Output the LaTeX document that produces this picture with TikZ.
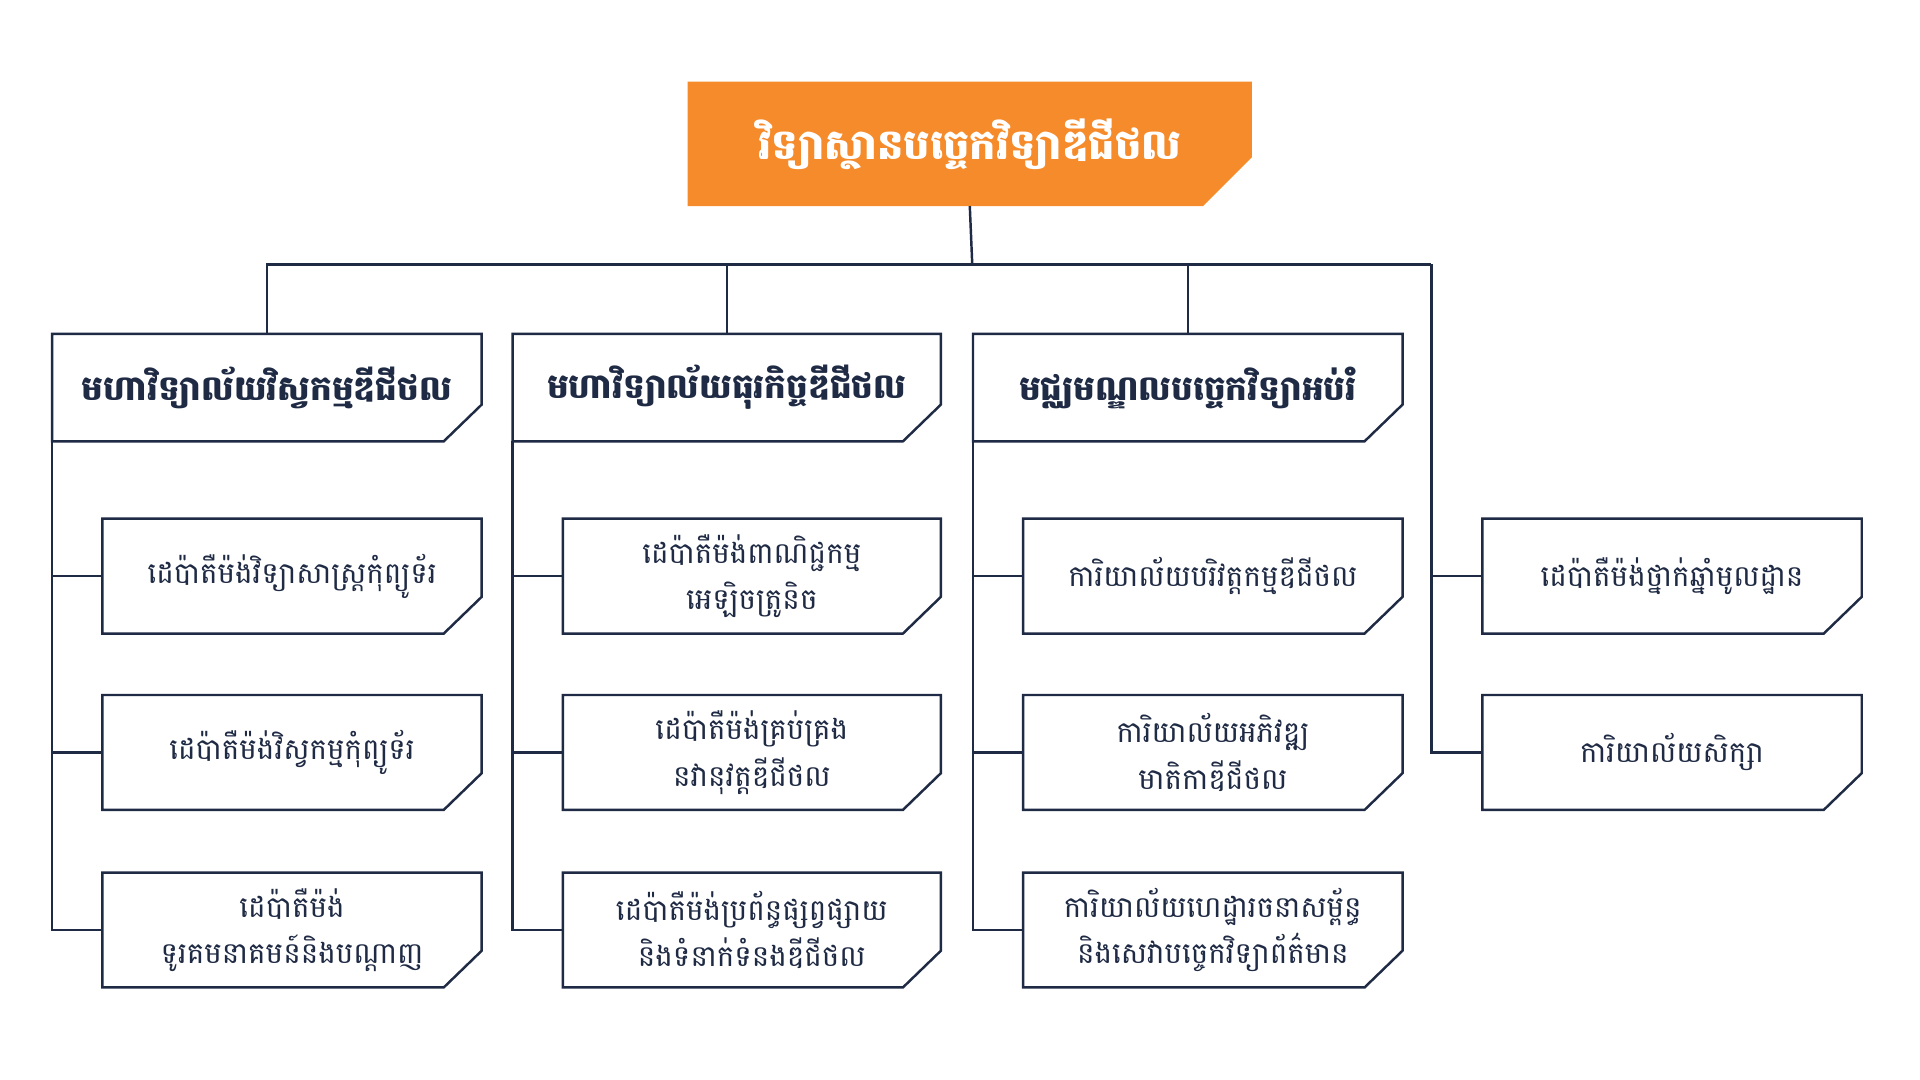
\documentclass[tikz,border=0pt]{standalone}
\usepackage{fontspec}
\newfontfamily\kh[Script=Khmer]{Battambang}
\definecolor{navy}{HTML}{1F2A44}
\definecolor{orng}{HTML}{F58B2A}
\tikzset{
  ln/.style={draw=navy,line width=1pt},
  boxtext/.style={inner sep=0pt,align=center,text=navy,font=\kh\fontsize{12}{19}\selectfont},
  headtext/.style={boxtext,font=\kh\bfseries\fontsize{14}{20}\selectfont},
}
% \cbox{name}{x1}{y1}{x2}{y2}{style}{text}
\newcommand\cbox[7]{%
  \node[#6,minimum width={(#4-#2)*0.5pt},minimum height={(#5-#3)*0.5pt}] (#1) at ({(#2+#4)/2},{(#3+#5)/2}) {#7};
  \draw[ln,fill=white,line join=miter] (#1.north west) -- (#1.north east) -- ([yshift=15pt]#1.south east) -- ([xshift=-15.5pt]#1.south east) -- (#1.south west) -- cycle;
  \node[#6] at (#1.center) {#7};
}
\begin{document}
\begin{tikzpicture}[x=0.5pt,y=-0.5pt]
\useasboundingbox[fill=white] (0,0) rectangle (1568,882);
% title
\node[minimum width=230pt,minimum height=50.5pt,inner sep=0pt] (title) at (792,117.5) {};
\fill[orng] (title.north west) -- (title.north east) -- ([yshift=20pt]title.south east) -- ([xshift=-20pt]title.south east) -- (title.south west) -- cycle;
\node[inner sep=0pt,text=white,font=\kh\bfseries\fontsize{17}{20}\selectfont] at (title.center) {វិទ្យាស្ថានបច្ចេកវិទ្យាឌីជីថល};
\coordinate (j) at (1169,216);
\coordinate (t) at (794,216);
% headers
\cbox{h1}{43}{273}{393}{360}{headtext}{មហាវិទ្យាល័យវិស្វកម្មឌីជីថល}
\cbox{h2}{419}{273}{768}{360}{headtext}{មហាវិទ្យាល័យធុរកិច្ចឌីជីថល}
\cbox{h3}{795}{273}{1145}{360}{headtext}{មជ្ឈមណ្ឌលបច្ចេកវិទ្យាអប់រំ}
% col1
\cbox{b11}{84}{424}{393}{517}{boxtext}{ដេប៉ាតឺម៉ង់វិទ្យាសាស្ត្រកុំព្យូទ័រ}
\cbox{b12}{84}{568}{393}{661}{boxtext}{ដេប៉ាតឺម៉ង់វិស្វកម្មកុំព្យូទ័រ}
\cbox{b13}{84}{713}{393}{806}{boxtext}{ដេប៉ាតឺម៉ង់\\ទូរគមនាគមន៍និងបណ្តាញ}
% col2
\cbox{b21}{460}{424}{768}{517}{boxtext}{ដេប៉ាតឺម៉ង់ពាណិជ្ជកម្ម\\អេឡិចត្រូនិច}
\cbox{b22}{460}{568}{768}{661}{boxtext}{ដេប៉ាតឺម៉ង់គ្រប់គ្រង\\នវានុវត្តឌីជីថល}
\cbox{b23}{460}{713}{768}{806}{boxtext}{ដេប៉ាតឺម៉ង់ប្រព័ន្ធផ្សព្វផ្សាយ\\និងទំនាក់ទំនងឌីជីថល}
% col3
\cbox{b31}{836}{424}{1145}{517}{boxtext}{ការិយាល័យបរិវត្តកម្មឌីជីថល}
\cbox{b32}{836}{568}{1145}{661}{boxtext}{ការិយាល័យអភិវឌ្ឍ\\មាតិកាឌីជីថល}
\cbox{b33}{836}{713}{1145}{806}{boxtext}{ការិយាល័យហេដ្ឋារចនាសម្ព័ន្ធ\\និងសេវាបច្ចេកវិទ្យាព័ត៌មាន}
% col4
\cbox{b41}{1211}{424}{1520}{517}{boxtext}{ដេប៉ាតឺម៉ង់ថ្នាក់ឆ្នាំមូលដ្ឋាន}
\cbox{b42}{1211}{568}{1520}{661}{boxtext}{ការិយាល័យសិក្សា}
% connectors
\draw[ln] (title.south) -- (t);
\draw[ln] (h1.north) |- (j);
\draw[ln] (h2.north) -- (h2.north |- j);
\draw[ln] (h3.north) -- (h3.north |- j);
\draw[ln] (j) |- (b41.west);
\draw[ln] (j) |- (b42.west);
\foreach \h/\a/\b/\c in {h1/b11/b12/b13,h2/b21/b22/b23,h3/b31/b32/b33}{
  \draw[ln] (\h.south west) |- (\c.west);
  \draw[ln] (\a.west) -- (\a.west -| \h.south west);
  \draw[ln] (\b.west) -- (\b.west -| \h.south west);
}
\end{tikzpicture}
\end{document}
